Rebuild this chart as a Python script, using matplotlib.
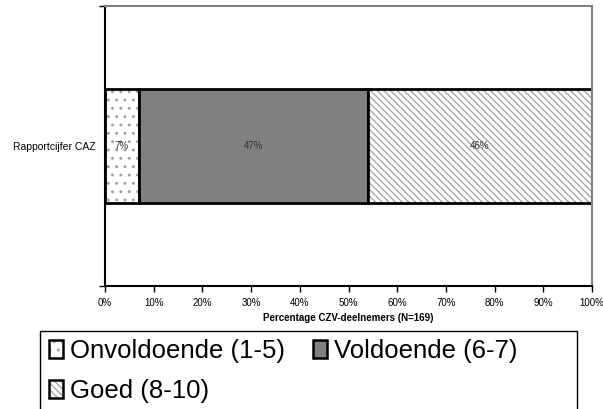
import matplotlib
matplotlib.use("Agg")
import matplotlib.pyplot as plt
from matplotlib.patches import Patch, Rectangle

plt.rcParams['font.family'] = ['Liberation Sans', 'DejaVu Sans']
plt.rcParams['hatch.linewidth'] = 0.9

category = "Rapportcijfer CAZ"
series_names = ["Onvoldoende (1-5)", "Voldoende (6-7)", "Goed (8-10)"]
values = [7, 47, 46]
xtick_values = [0, 10, 20, 30, 40, 50, 60, 70, 80, 90, 100]
xlabel = "Percentage CZV-deelnemers (N=169)"

faces = ["white", "#808080", "white"]
hatches = ["..", None, "\\\\\\\\\\"]
hatch_cols = ["#a0a0a0", "#808080", "#a0a0a0"]

W, H = 603, 409
fig = plt.figure(figsize=(W / 100, H / 100), dpi=100)
ax = fig.add_axes([105 / W, 1 - 286 / H, (592 - 105) / W, (286 - 6) / H])

y = 0.5
bar_h = 0.41
left = 0
handles = []
for name, v, fc, h, hc in zip(series_names, values, faces, hatches, hatch_cols):
    ax.barh(y, v, left=left, height=bar_h, color=fc, hatch=h,
            edgecolor=hc, linewidth=0)
    ax.barh(y, v, left=left, height=bar_h, fill=False,
            edgecolor="black", linewidth=2)
    ax.text(left + v / 2, y, f"{v}%", ha="center", va="center",
            fontsize=7, color="#333333")
    handles.append((Patch(facecolor=fc, hatch=h, edgecolor=hc, linewidth=0),
                    Patch(fill=False, edgecolor="black", linewidth=1.8)))
    left += v

ax.set_xlim(0, 100)
ax.set_ylim(0, 1)
ax.set_xticks(xtick_values)
ax.set_xticklabels([f"{t}%" for t in xtick_values], fontsize=7)
ax.tick_params(axis="x", direction="out", length=4, width=1, pad=5, color="black")
ax.set_yticks([0, 1])
ax.set_yticklabels([])
ax.tick_params(axis="y", direction="out", length=4, width=1)
ax.set_yticks([y], minor=True)
ax.set_yticklabels([category], minor=True, fontsize=7.5)
ax.tick_params(axis="y", which="minor", length=0, pad=7)
ax.set_xlabel(xlabel, fontsize=7, fontweight="bold", labelpad=3)

for s in ("left", "bottom"):
    ax.spines[s].set_color("black")
    ax.spines[s].set_linewidth(1.5)
for s in ("top", "right"):
    ax.spines[s].set_color("#808080")
    ax.spines[s].set_linewidth(1.5)

# legend frame (runs past the lower edge of the figure)
fig.patches.append(Rectangle((40 / W, -0.1), (577 - 40) / W, (1 - 331 / H) + 0.1,
                             transform=fig.transFigure, fill=False,
                             edgecolor="black", linewidth=1.0))
# two columns filled row by row
order = [0, 2, 1]
fig.legend([handles[i] for i in order], [series_names[i] for i in order],
           ncol=2, loc="upper left",
           bbox_to_anchor=(44 / W, 1 - 334 / H), frameon=False,
           fontsize=18.5, handlelength=0.55, handleheight=0.7,
           handletextpad=0.25, columnspacing=1.1, labelspacing=0.6,
           borderpad=0.2, borderaxespad=0)

fig.savefig("out.png", dpi=100)
